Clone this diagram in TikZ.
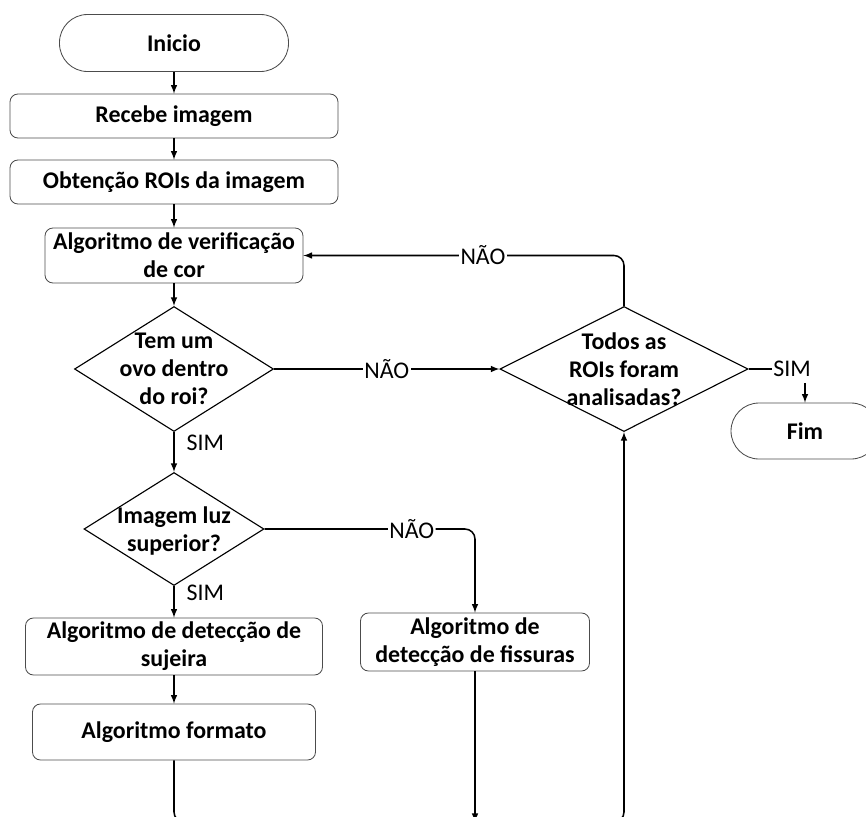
\documentclass[tikz,border=0pt]{standalone}
\usepackage{fontspec}
\setmainfont{Carlito}
\usetikzlibrary{shapes.geometric,arrows}

\tikzset{
    term/.style={draw=black!70, line width=0.6pt, rectangle, rounded corners=0.7cm,
        minimum width=5.725cm, minimum height=1.425cm, inner sep=0pt, font=\bfseries},
    proc/.style={draw=black!70, line width=0.6pt, rectangle, rounded corners=0.2cm,
        inner sep=0pt, align=center, font=\bfseries},
    decision/.style={draw, line width=0.8pt, diamond, inner sep=0pt},
    dtext/.style={align=center, inner sep=0pt, font=\bfseries},
    conn/.style={->, line width=1.1pt},
    nao/.style={fill=white, inner sep=1pt},
    sim/.style={right=0.26cm, inner sep=1pt},
}

\begin{document}
\begin{tikzpicture}[>=latex]
    \fontsize{17}{20}\selectfont
    \useasboundingbox (0,0) rectangle (21.65,-20.4);
    \clip (0,0) rectangle (21.65,-20.4);

    % coluna principal
    \node[term] (inicio) at (4.35,-1.075) {Inicio};
    \node[proc, minimum width=8.2cm, minimum height=1.1cm] (recebe) at (4.35,-2.9) {Recebe imagem};
    \node[proc, minimum width=8.2cm, minimum height=1.1cm] (rois) at (4.35,-4.55) {Obtenção ROIs da imagem};
    \node[proc, minimum width=6.45cm, minimum height=1.375cm] (cor) at (4.35,-6.3875) {Algoritmo de verificação\\de cor};

    \node[decision, minimum width=4.975cm, minimum height=3.125cm] (ovo) at (4.35,-9.225) {};
    \node[dtext] (ovotxt) at (ovo) {Tem um\\ovo dentro\\do roi?};
    \node[decision, minimum width=4.5cm, minimum height=2.825cm] (luz) at (4.35,-13.225) {};
    \node[dtext] (luztxt) at (4.35,-13.27) {Imagem luz\\superior?};

    \node[proc, minimum width=7.425cm, minimum height=1.425cm] (sujeira) at (4.35,-16.1625) {Algoritmo de detecção de\\sujeira};
    \node[proc, minimum width=7.075cm, minimum height=1.4cm] (formato) at (4.35,-18.3) {Algoritmo formato};
    \node[proc, minimum width=5.725cm, minimum height=1.45cm] (fissuras) at (11.875,-16.05) {Algoritmo de\\detecção de fissuras};

    % lado direito
    \node[decision, minimum width=6.2cm, minimum height=3.125cm] (todos) at (15.6,-9.225) {};
    \node[dtext] (todostxt) at (todos) {Todos as\\ROIs foram\\analisadas?};
    \node[inner sep=1pt] (simfim) at (19.8,-9.225) {SIM};
    \node[term, minimum width=3.7cm, minimum height=1.4cm] (fim) at (20.125,-10.775) {Fim};

    \coordinate (base) at (0,-20.55);

    % ligacoes
    \draw[conn] (inicio) -- (recebe);
    \draw[conn] (recebe) -- (rois);
    \draw[conn] (rois) -- (cor);
    \draw[conn] (cor) -- (ovo);
    \draw[conn] (ovo) -- node[nao]{NÃO} (todos);
    \draw[conn] (ovo) -- node[sim, pos=0.26]{SIM} (luz);
    \draw[conn, rounded corners=0.25cm] (todos.north) |- node[nao, pos=0.72]{NÃO} (cor.east);
    \draw[line width=1.1pt] (todos.east) -- (simfim.west);
    \draw[conn] ([yshift=-3pt]simfim.south -| fim) -- (fim);
    \draw[conn, rounded corners=0.25cm] (luz) -| node[nao, pos=0.35]{NÃO} (fissuras);
    \draw[conn] (luz) -- node[sim, pos=0.22]{SIM} (sujeira);
    \draw[conn] (sujeira) -- (formato);
    \draw[conn] (fissuras) -- (fissuras |- base);
    \draw[conn, rounded corners=0.25cm] (formato.south) |- (base -| todos) -- (todos.south);
\end{tikzpicture}
\end{document}
